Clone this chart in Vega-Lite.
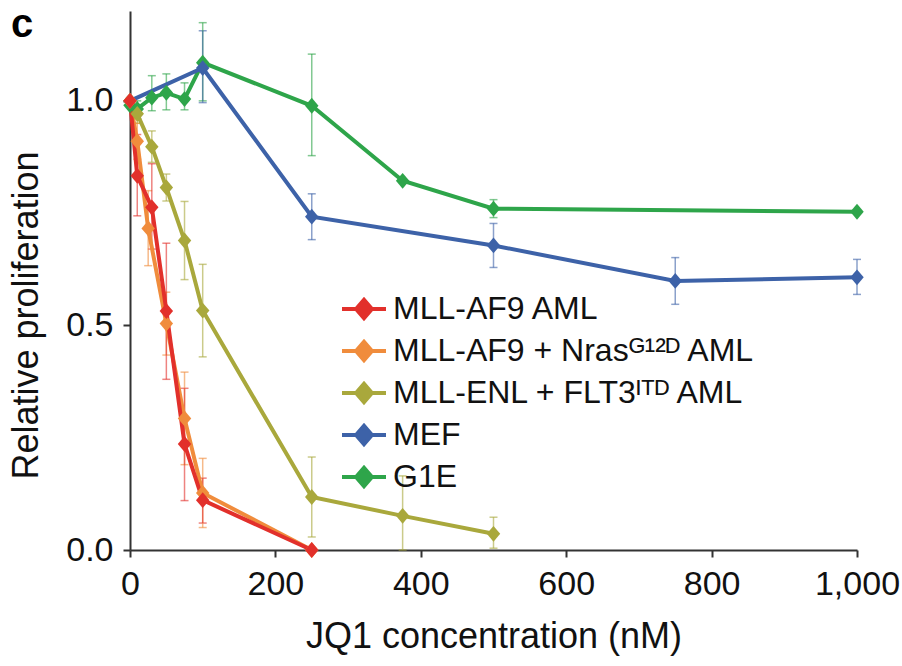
{
  "$schema": "https://vega.github.io/schema/vega-lite/v6.json",
  "width": 727,
  "height": 539,
  "autosize": {"type": "none"},
  "padding": {"left": 130, "top": 11, "right": 45, "bottom": 116},
  "background": "white",
  "title": {"text": "c", "anchor": "start", "frame": "group", "fontSize": 40, "fontWeight": "bold", "font": "Liberation Sans", "color": "#000", "dx": -119, "dy": 66, "baseline": "alphabetic", "offset": 0},
  "config": {
    "view": {"stroke": null},
    "font": "Liberation Sans",
    "axis": {"domainColor": "#333", "domainWidth": 2, "tickColor": "#333", "tickWidth": 2, "tickSize": 7, "labelFontSize": 34, "titleFontSize": 36, "labelColor": "#111", "titleColor": "#111", "labelFont": "Liberation Sans", "titleFont": "Liberation Sans", "titleFontWeight": "normal", "grid": false, "labelFlush": false}
  },
  "data": {"values": [
    {"series": "G1E", "conc": 0, "value": 0.99},
    {"series": "G1E", "conc": 10, "value": 0.982, "lo": 0.96, "hi": 1.0},
    {"series": "G1E", "conc": 30, "value": 1.007, "lo": 0.978, "hi": 1.056},
    {"series": "G1E", "conc": 50, "value": 1.018, "lo": 0.98, "hi": 1.06},
    {"series": "G1E", "conc": 75, "value": 1.004, "lo": 0.98, "hi": 1.04},
    {"series": "G1E", "conc": 100, "value": 1.085, "lo": 1.0, "hi": 1.174},
    {"series": "G1E", "conc": 250, "value": 0.989, "lo": 0.878, "hi": 1.104},
    {"series": "G1E", "conc": 375, "value": 0.822},
    {"series": "G1E", "conc": 500, "value": 0.76, "lo": 0.74, "hi": 0.78},
    {"series": "G1E", "conc": 1000, "value": 0.753},
    {"series": "MEF", "conc": 0, "value": 1.0},
    {"series": "MEF", "conc": 100, "value": 1.073, "lo": 0.996, "hi": 1.156},
    {"series": "MEF", "conc": 250, "value": 0.742, "lo": 0.691, "hi": 0.793},
    {"series": "MEF", "conc": 500, "value": 0.678, "lo": 0.629, "hi": 0.727},
    {"series": "MEF", "conc": 750, "value": 0.599, "lo": 0.547, "hi": 0.651},
    {"series": "MEF", "conc": 1000, "value": 0.607, "lo": 0.569, "hi": 0.647},
    {"series": "MLL-ENL + FLT3ᴵᵀᴰ AML", "conc": 0, "value": 1.0},
    {"series": "MLL-ENL + FLT3ᴵᵀᴰ AML", "conc": 10, "value": 0.971, "lo": 0.95, "hi": 0.99},
    {"series": "MLL-ENL + FLT3ᴵᵀᴰ AML", "conc": 30, "value": 0.898, "lo": 0.863, "hi": 0.933},
    {"series": "MLL-ENL + FLT3ᴵᵀᴰ AML", "conc": 50, "value": 0.807, "lo": 0.777, "hi": 0.837},
    {"series": "MLL-ENL + FLT3ᴵᵀᴰ AML", "conc": 75, "value": 0.689, "lo": 0.602, "hi": 0.776},
    {"series": "MLL-ENL + FLT3ᴵᵀᴰ AML", "conc": 100, "value": 0.533, "lo": 0.43, "hi": 0.636},
    {"series": "MLL-ENL + FLT3ᴵᵀᴰ AML", "conc": 250, "value": 0.118, "lo": 0.029, "hi": 0.207},
    {"series": "MLL-ENL + FLT3ᴵᵀᴰ AML", "conc": 375, "value": 0.076, "lo": 0.0, "hi": 0.165},
    {"series": "MLL-ENL + FLT3ᴵᵀᴰ AML", "conc": 500, "value": 0.036, "lo": 0.004, "hi": 0.073},
    {"series": "MLL-AF9 + Nrasᴳ¹²ᴰ AML", "conc": 0, "value": 1.0},
    {"series": "MLL-AF9 + Nrasᴳ¹²ᴰ AML", "conc": 10, "value": 0.91, "lo": 0.87, "hi": 0.95},
    {"series": "MLL-AF9 + Nrasᴳ¹²ᴰ AML", "conc": 25, "value": 0.716, "lo": 0.633, "hi": 0.8},
    {"series": "MLL-AF9 + Nrasᴳ¹²ᴰ AML", "conc": 50, "value": 0.504, "lo": 0.434, "hi": 0.574},
    {"series": "MLL-AF9 + Nrasᴳ¹²ᴰ AML", "conc": 75, "value": 0.293, "lo": 0.19, "hi": 0.396},
    {"series": "MLL-AF9 + Nrasᴳ¹²ᴰ AML", "conc": 100, "value": 0.127, "lo": 0.05, "hi": 0.204},
    {"series": "MLL-AF9 + Nrasᴳ¹²ᴰ AML", "conc": 250, "value": 0.0},
    {"series": "MLL-AF9 AML", "conc": 0, "value": 1.0},
    {"series": "MLL-AF9 AML", "conc": 10, "value": 0.833, "lo": 0.744, "hi": 0.925},
    {"series": "MLL-AF9 AML", "conc": 30, "value": 0.763, "lo": 0.67, "hi": 0.86},
    {"series": "MLL-AF9 AML", "conc": 50, "value": 0.532, "lo": 0.38, "hi": 0.683},
    {"series": "MLL-AF9 AML", "conc": 75, "value": 0.236, "lo": 0.11, "hi": 0.36},
    {"series": "MLL-AF9 AML", "conc": 100, "value": 0.111, "lo": 0.06, "hi": 0.16},
    {"series": "MLL-AF9 AML", "conc": 250, "value": 0.0}
  ]},
  "encoding": {
    "x": {"field": "conc", "type": "quantitative", "scale": {"domain": [0, 1000], "nice": false},
      "axis": {"values": [0, 200, 400, 600, 800, 1000], "format": ",d", "labelPadding": 10, "titlePadding": 18, "title": "JQ1 concentration (nM)"}},
    "color": {"field": "series", "type": "nominal",
      "scale": {"domain": ["MLL-AF9 AML", "MLL-AF9 + Nrasᴳ¹²ᴰ AML", "MLL-ENL + FLT3ᴵᵀᴰ AML", "MEF", "G1E"],
        "range": ["#e2302b", "#f08c3c", "#a9a83c", "#3d62a8", "#2ea54a"]},
      "legend": {"orient": "none", "legendX": 210, "legendY": 274, "title": null, "padding": 0,
        "labelFontSize": 32, "labelFont": "Liberation Sans", "labelColor": "#111", "labelLimit": 700, "labelOffset": 5,
        "symbolType": "M-1,0L1,0M0,-0.42L0.36,0L0,0.42L-0.36,0Z", "symbolSize": 1936, "symbolStrokeWidth": 4, "rowPadding": -6,
        "encode": {"symbols": {"update": {"fill": {"scale": "color", "field": "value"}, "stroke": {"scale": "color", "field": "value"}, "opacity": {"value": 1}}}}}}
  },
  "layer": [
    {
      "transform": [{"filter": "isValid(datum.lo)"}],
      "mark": {"type": "errorbar", "ticks": {"size": 8, "thickness": 1.5, "opacity": 0.6}, "rule": {"strokeWidth": 1.5, "opacity": 0.6}},
      "encoding": {
        "y": {"field": "lo", "type": "quantitative", "scale": {"domain": [0, 1.2], "nice": false}, "title": "Relative proliferation"},
        "y2": {"field": "hi"}
      }
    },
    {
      "mark": {"type": "line", "strokeWidth": 4, "point": {"shape": "M0,-1L0.85,0L0,1L-0.85,0Z", "size": 250, "filled": true, "opacity": 1}},
      "encoding": {
        "y": {"field": "value", "type": "quantitative", "scale": {"domain": [0, 1.2], "nice": false},
          "axis": {"values": [0, 0.5, 1.0], "format": ".1f", "labelPadding": 10, "titlePadding": 20, "titleY": 304, "title": "Relative proliferation"}}
      }
    }
  ]
}
